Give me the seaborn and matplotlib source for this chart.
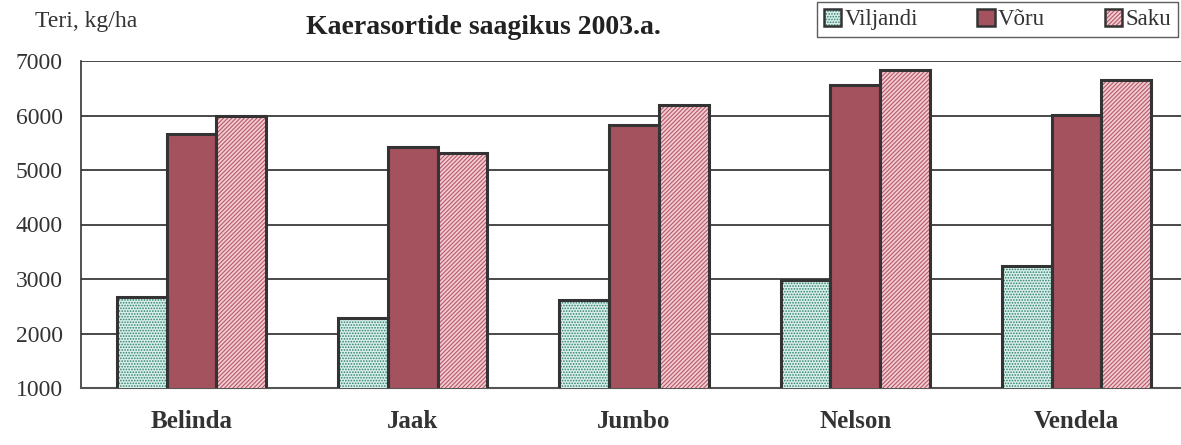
import numpy as np
import pandas as pd
import matplotlib
matplotlib.use("Agg")
import matplotlib.pyplot as plt
import seaborn as sns
from matplotlib.patches import Patch, Rectangle
from matplotlib.legend_handler import HandlerTuple

varieties = ["Belinda", "Jaak", "Jumbo", "Nelson", "Vendela"]
locations = ["Viljandi", "Võru", "Saku"]
viljandi = [2670, 2280, 2610, 2980, 3240]
voru = [5660, 5420, 5830, 6560, 6010]
saku = [5990, 5310, 6190, 6830, 6650]
yticks = [1000, 2000, 3000, 4000, 5000, 6000, 7000]

rows = []
for loc, vals in zip(locations, [viljandi, voru, saku]):
    for var, v in zip(varieties, vals):
        rows.append({"Sort": var, "Koht": loc, "Saak": v})
df = pd.DataFrame(rows)

sns.set_style("white")
plt.rcParams["font.family"] = ["Liberation Serif", "DejaVu Serif"]
plt.rcParams["hatch.linewidth"] = 0.8

# face colour, hatch colour, hatch
styles = {
    "Viljandi": ("#d9efe9", "#2f8070", "......"),
    "Võru": ("#a5525f", "#a5525f", None),
    "Saku": ("#f1cdd3", "#b85868", "////////"),
}
edge = "#333333"
txt = "#333333"

fig = plt.figure(figsize=(11.81, 4.45), dpi=100)
ax = fig.add_axes([81 / 1181, 1 - 388 / 445, 1106 / 1181, 327 / 445])

sns.barplot(data=df, x="Sort", y="Saak", hue="Koht", order=varieties,
            hue_order=locations, width=0.675, gap=0, dodge=True,
            errorbar=None, legend=False, ax=ax, zorder=3)

for loc, cont in zip(locations, ax.containers):
    face, hcol, hatch = styles[loc]
    for p in cont:
        p.set_facecolor(face)
        p.set_edgecolor(hcol)
        p.set_linewidth(0)
        if hatch:
            p.set_hatch(hatch)
        ax.add_patch(Rectangle(p.get_xy(), p.get_width(), p.get_height(),
                               fill=False, edgecolor=edge, linewidth=2.2,
                               zorder=4))

ax.set_ylim(1000, 7000)
ax.set_xlim(-0.5, 4.5)
ax.set_yticks(yticks)
ax.set_yticklabels([str(t) for t in yticks], fontsize=17, color=txt)
ax.yaxis.grid(True, color="#3a3a3a", linewidth=1.3, zorder=0)
ax.set_axisbelow(True)

ax.set_xticks(np.arange(-0.5, 5, 1))
ax.set_xticklabels([])
ax.set_xticks(range(len(varieties)), minor=True)
ax.set_xticklabels(varieties, minor=True, fontsize=18, fontweight="bold",
                   color=txt)
ax.tick_params(axis="x", which="major", direction="out", length=7,
               color="#555555", width=1.2)
ax.tick_params(axis="x", which="minor", length=0, pad=16)
ax.tick_params(axis="y", direction="out", length=7, color="#555555",
               width=1.2, pad=6)

for s in ["top", "right"]:
    ax.spines[s].set_visible(False)
ax.spines["left"].set_color("#333333")
ax.spines["left"].set_linewidth(1.2)
ax.spines["bottom"].set_color("#555555")
ax.spines["bottom"].set_linewidth(1.5)
ax.set_xlabel("")
ax.set_ylabel("")

fig.text(35 / 1181, 1 - 21 / 445, "Teri, kg/ha", fontsize=17,
         color=txt, va="center", ha="left")
fig.text(483 / 1181, 1 - 28 / 445, "Kaerasortide saagikus 2003.a.",
         fontsize=20, fontweight="bold", color="#222222",
         va="center", ha="center")

handles = []
for loc in locations:
    face, hcol, hatch = styles[loc]
    fillp = Patch(facecolor=face, edgecolor=hcol, linewidth=0, hatch=hatch)
    outl = Patch(fill=False, edgecolor=edge, linewidth=1.8)
    handles.append((fillp, outl))
leg = fig.legend(handles, locations, loc="upper right",
                 bbox_to_anchor=(1178 / 1181, 1 - 2 / 445), ncol=3,
                 handler_map={tuple: HandlerTuple(ndivide=1, pad=0)},
                 handlelength=0.75, handleheight=0.75, handletextpad=0.15,
                 columnspacing=2.6, fontsize=16.5, frameon=True,
                 fancybox=False, borderpad=0.3, borderaxespad=0)
leg.get_frame().set_edgecolor("#333333")
leg.get_frame().set_linewidth(1.0)
for t in leg.get_texts():
    t.set_color(txt)

fig.savefig("out.png", dpi=100)
